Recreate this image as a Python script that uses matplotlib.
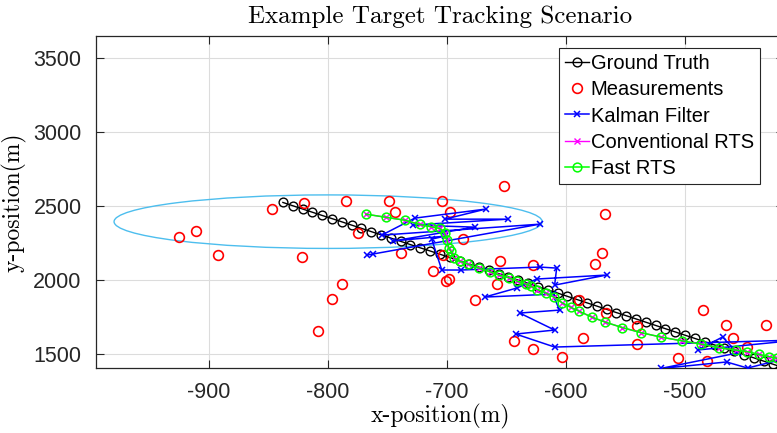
import matplotlib.pyplot as plt
from matplotlib.patches import Ellipse

# ground truth track
gt_x = [-838.0, -829.8, -821.5, -813.3, -805.0, -796.8, -788.5, -780.3, -772.0, -763.8,
        -755.5, -747.3, -739.0, -730.8, -722.5, -714.3, -706.0, -697.8, -689.5, -681.3,
        -673.0, -664.8, -656.5, -648.3, -640.0, -631.8, -623.5, -615.3, -607.0, -598.8,
        -590.5, -582.3, -574.0, -565.8, -557.5, -549.3, -541.0, -532.8, -524.5, -516.3,
        -508.0, -499.8, -491.5, -483.3, -475.0, -466.8, -458.5, -450.3, -442.0, -433.8,
        -425.5, -417.3]
gt_y = [2525, 2503, 2481, 2459, 2437, 2416, 2394, 2372, 2350, 2328,
        2306, 2284, 2262, 2240, 2218, 2197, 2175, 2153, 2131, 2109,
        2087, 2065, 2043, 2021, 1999, 1978, 1956, 1934, 1912, 1890,
        1868, 1846, 1824, 1802, 1780, 1759, 1737, 1715, 1693, 1671,
        1649, 1627, 1605, 1583, 1561, 1540, 1518, 1496, 1474, 1452,
        1430, 1408]

# measurements
meas_x = [-925.5, -911.2, -892.7, -847.2, -820.4, -822.1, -785.1, -749.0, -743.9, -774.6,
          -738.9, -788.5, -796.5, -808.4, -711.6, -704.5, -697.3, -686.4, -703.6, -651.9,
          -567.5, -570.0, -575.5, -655.3, -628.0, -701.1, -698.2, -658.2, -676.7, -589.3,
          -566.6, -540.2, -540.2, -586.0, -643.5, -628.0, -603.6, -506.1, -481.3, -485.1,
          -465.8, -431.8, -459.9, -447.7]
meas_y = [2291, 2331, 2169, 2480, 2520, 2155, 2534, 2537, 2459, 2318,
          2182, 1973, 1870, 1657, 2061, 2534, 2459, 2280, 2169, 2635,
          2449, 2182, 2112, 2132, 2101, 1997, 2007, 1973, 1865, 1868,
          1780, 1686, 1571, 1611, 1591, 1537, 1480, 1473, 1456, 1797,
          1696, 1696, 1605, 1547]

# kalman filter estimates
kf_x = [-767.5, -762.4, -622.1, -754.9, -727.1, -667.5, -701.9, -649.0, -728.8, -676.7,
        -745.6, -701.9, -712.9, -704.4, -688.4, -622.1, -607.8, -609.5, -565.8, -624.6,
        -641.4, -668.3, -611.2, -605.3, -638.9, -609.5, -642.2, -609.5, -403.6, -489.3,
        -468.3, -455.7, -520.4, -464.9, -447.3, -403.6]
kf_y = [2169, 2176, 2378, 2304, 2419, 2480, 2412, 2412, 2372, 2358,
        2264, 2297, 2277, 2068, 2068, 2088, 2081, 1966, 2034, 2007,
        1946, 1885, 1905, 1797, 1777, 1662, 1635, 1547, 1595, 1527,
        1615, 1507, 1402, 1446, 1405, 1493]

# smoothed estimates (conventional and fast RTS give the same track)
rts_x = [-768.3, -750.9, -735.5, -722.9, -713.1, -706.1, -701.9, -700.0, -698.6, -696.9,
         -694.4, -689.3, -682.6, -673.4, -663.7, -656.6, -648.2, -641.1, -634.0, -629.7,
         -624.1, -617.0, -610.0, -602.9, -596.0, -588.8, -578.4, -567.1, -552.7, -537.2,
         -520.4, -502.0, -486.0, -471.1, -457.4, -447.6, -437.7, -429.2, -422.1]
rts_y = [2446, 2424, 2405, 2376, 2360, 2349, 2316, 2270, 2220, 2196,
         2151, 2128, 2108, 2081, 2056, 2034, 2016, 1993, 1974, 1959,
         1936, 1913, 1884, 1845, 1816, 1789, 1750, 1716, 1679, 1645,
         1615, 1588, 1566, 1543, 1527, 1516, 1497, 1482, 1470]

# uncertainty ellipse
ell_center = (-800, 2395)
ell_radius = (180, 181)

plt.rcParams['axes.unicode_minus'] = False

fig = plt.figure(figsize=(7.77, 4.33), dpi=100)
ax = fig.add_axes([95.5/777, 65/433, (784.5 - 95.5)/777, 332/433])

ax.add_patch(Ellipse(ell_center, 2*ell_radius[0], 2*ell_radius[1], fill=False,
                     edgecolor='#4DBEEE', lw=1.0, zorder=2))
ax.plot(gt_x, gt_y, '-o', color='k', mfc='none', ms=6.3, lw=1.0, mew=1.0,
        label='Ground Truth', zorder=3)
ax.plot(meas_x, meas_y, 'o', color='r', mfc='none', ms=7, mew=1.2,
        label='Measurements', zorder=3)
ax.plot(kf_x, kf_y, '-x', color='b', ms=5, lw=1.1, mew=1.1,
        label='Kalman Filter', zorder=4)
ax.plot(rts_x, rts_y, '-x', color='#ff00ff', ms=4, lw=1.0, mew=1.0,
        label='Conventional RTS', zorder=5)
ax.plot(rts_x, rts_y, '-o', color='#00ff00', mfc='none', ms=6.3, lw=1.1, mew=1.1,
        label='Fast RTS', zorder=6)

ax.set_xlim(-995.6, -416.2)
ax.set_ylim(1405.3, 3650.8)
ax.set_xticks([-900, -800, -700, -600, -500])
ax.set_yticks([1500, 2000, 2500, 3000, 3500])
ax.grid(True, color='#dcdcdc', lw=0.8)
ax.set_axisbelow(True)

for s in ax.spines.values():
    s.set_color('#262626')
    s.set_linewidth(0.9)
ax.tick_params(direction='in', length=6, width=0.8, top=True, right=True,
               colors='#262626', labelsize=15.5, pad=10)
for lab in ax.get_xticklabels() + ax.get_yticklabels():
    lab.set_family('Liberation Sans')

ax.set_title('Example Target Tracking Scenario', fontfamily='cmr10', fontsize=18, pad=9)
ax.set_xlabel('x-position(m)', fontfamily='cmr10', fontsize=17, labelpad=1)
ax.set_ylabel('y-position(m)', fontfamily='cmr10', fontsize=17, labelpad=5)

leg = ax.legend(loc='upper right', bbox_to_anchor=(760/777, 1 - 48/433),
                bbox_transform=fig.transFigure, borderaxespad=0,
                prop={'family': 'Liberation Sans', 'size': 14.5},
                handlelength=1.2, handletextpad=0.1, labelspacing=0.36,
                borderpad=0.3, fancybox=False, framealpha=1)
leg.get_frame().set_edgecolor('#262626')
leg.get_frame().set_linewidth(0.8)

fig.savefig('out.png', dpi=100)
